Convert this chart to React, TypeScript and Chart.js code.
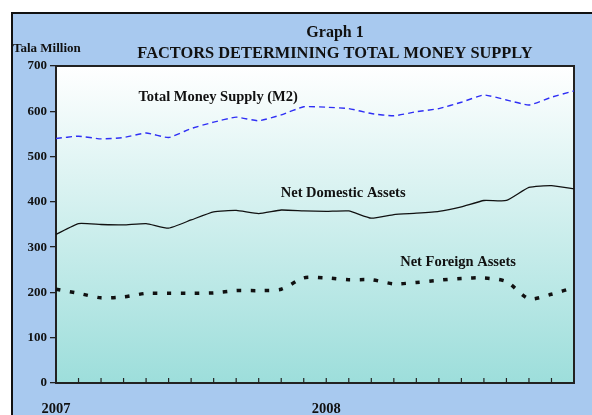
import React, { useEffect, useRef } from "react";
import { Chart, registerables } from "chart.js";

Chart.register(...registerables);

const categories: string[] = [
  "Jan 2007", "Feb 2007", "Mar 2007", "Apr 2007", "May 2007", "Jun 2007",
  "Jul 2007", "Aug 2007", "Sep 2007", "Oct 2007", "Nov 2007", "Dec 2007",
  "Jan 2008", "Feb 2008", "Mar 2008", "Apr 2008", "May 2008", "Jun 2008",
  "Jul 2008", "Aug 2008", "Sep 2008", "Oct 2008", "Nov 2008", "Dec 2008",
];
const tickLabels: string[] = categories.map((c, i) => (i === 0 ? "2007" : i === 12 ? "2008" : ""));

const totalMoneySupply: number[] = [540, 545, 539, 542, 552, 542, 562, 576, 587, 579, 592, 610, 609, 606, 595, 590, 599, 606, 620, 636, 625, 614, 631, 645];
const netDomesticAssets: number[] = [328, 352, 350, 349, 352, 342, 360, 378, 381, 374, 382, 380, 379, 380, 364, 372, 375, 379, 389, 403, 403, 432, 436, 429];
const netForeignAssets: number[] = [207, 198, 188, 190, 198, 198, 198, 199, 204, 204, 207, 232, 232, 228, 228, 219, 222, 227, 231, 232, 224, 186, 196, 211];

const titleLine1 = "Graph 1";
const titleLine2 = "FACTORS DETERMINING TOTAL MONEY SUPPLY";
const unitLabel = "Tala Million";
const seriesNames = ["Total Money Supply (M2)", "Net Domestic Assets", "Net Foreign Assets"];
// label anchor positions in data units (category index, value)
const labelAnchors: [number, number][] = [[7.2, 630], [12.75, 418], [17.85, 266]];

const FONT = "'Liberation Serif', 'Times New Roman', serif";

const framePlugin = {
  id: "frameDecor",
  beforeDraw(chart: any) {
    const { ctx, chartArea } = chart;
    ctx.save();
    ctx.fillStyle = "#ffffff";
    ctx.fillRect(0, 0, chart.width, chart.height);
    ctx.fillStyle = "#a8c9ef";
    ctx.fillRect(11, 12, chart.width, chart.height);
    ctx.strokeStyle = "#111";
    ctx.lineWidth = 2;
    ctx.beginPath();
    ctx.moveTo(12, chart.height + 2);
    ctx.lineTo(12, 13);
    ctx.lineTo(chart.width + 2, 13);
    ctx.stroke();
    const g = ctx.createLinearGradient(0, chartArea.top, 0, chartArea.bottom);
    g.addColorStop(0, "#ffffff");
    g.addColorStop(1, "#9ddedb");
    ctx.fillStyle = g;
    ctx.fillRect(chartArea.left, chartArea.top, chartArea.right - chartArea.left, chartArea.bottom - chartArea.top);
    ctx.restore();
  },
  beforeDatasetsDraw(chart: any) {
    const { ctx, chartArea, scales } = chart;
    ctx.save();
    ctx.strokeStyle = "#222";
    ctx.lineWidth = 2;
    ctx.strokeRect(chartArea.left, chartArea.top, chartArea.right - chartArea.left, chartArea.bottom - chartArea.top);
    // inner x ticks
    ctx.lineWidth = 1.2;
    ctx.strokeStyle = "#222";
    const xs = scales.x;
    for (let i = 0; i < categories.length; i++) {
      const px = xs.getPixelForValue(i);
      ctx.beginPath();
      ctx.moveTo(px, chartArea.bottom);
      ctx.lineTo(px, chartArea.bottom - 5);
      ctx.stroke();
    }
    ctx.restore();
  },
  afterDraw(chart: any) {
    const { ctx, scales } = chart;
    ctx.save();
    ctx.fillStyle = "#111";
    ctx.textAlign = "center";
    ctx.textBaseline = "alphabetic";
    ctx.font = `bold 16px ${FONT}`;
    ctx.fillText(titleLine1, 335, 37);
    ctx.font = `bold 16.4px ${FONT}`;
    ctx.fillText(titleLine2, 335, 58);
    ctx.textAlign = "left";
    ctx.font = `bold 13px ${FONT}`;
    ctx.fillText(unitLabel, 13, 52);
    ctx.textAlign = "center";
    ctx.textBaseline = "middle";
    ctx.font = `bold 14.5px ${FONT}`;
    seriesNames.forEach((name, i) => {
      const [xi, v] = labelAnchors[i];
      ctx.fillText(name, scales.x.getPixelForValue(xi), scales.y.getPixelForValue(v));
    });
    ctx.restore();
  },
};

export default function App() {
  const ref = useRef<HTMLCanvasElement | null>(null);
  useEffect(() => {
    if (!ref.current) return;
    const chart = new Chart(ref.current, {
      type: "line",
      data: {
        labels: tickLabels,
        datasets: [
          {
            label: seriesNames[0],
            data: totalMoneySupply,
            borderColor: "#2f2ff5",
            borderWidth: 1.4,
            borderDash: [6, 4],
            pointRadius: 0,
            tension: 0.15,
            fill: false,
          },
          {
            label: seriesNames[1],
            data: netDomesticAssets,
            borderColor: "#111111",
            borderWidth: 1.3,
            pointRadius: 0,
            tension: 0.15,
            fill: false,
          },
          {
            label: seriesNames[2],
            data: netForeignAssets,
            borderColor: "#111111",
            borderWidth: 3.5,
            borderDash: [4.5, 9.5],
            pointRadius: 0,
            tension: 0.25,
            fill: false,
          },
        ],
      },
      options: {
        responsive: false,
        animation: false,
        layout: { padding: { top: 66, right: 9, left: 0, bottom: 0 } },
        plugins: { legend: { display: false }, title: { display: false }, tooltip: { enabled: false } },
        scales: {
          x: {
            type: "category",
            offset: false,
            grid: { drawOnChartArea: false, drawTicks: false },
            border: { display: true, color: "#222", width: 2 },
            ticks: {
              autoSkip: false,
              maxRotation: 0,
              padding: 18,
              color: "#111",
              font: { family: FONT, size: 14.5, weight: "bold" },
            },
            afterFit(scale: any) {
              scale.height = 32;
            },
          },
          y: {
            min: 0,
            max: 700,
            ticks: {
              stepSize: 100,
              padding: 3,
              color: "#111",
              font: { family: FONT, size: 13, weight: "bold" },
            },
            grid: { drawOnChartArea: false, drawTicks: true, tickLength: 6, color: "#222", lineWidth: 1.3 },
            border: { display: true, color: "#222", width: 2 },
            afterFit(scale: any) {
              scale.width = 56;
            },
          },
        },
      },
      plugins: [framePlugin],
    });
    return () => chart.destroy();
  }, []);
  return (
    <div style={{ position: "absolute", left: 0, top: 0, width: 592, height: 415 }}>
      <canvas ref={ref} width={592} height={415} />
    </div>
  );
}
